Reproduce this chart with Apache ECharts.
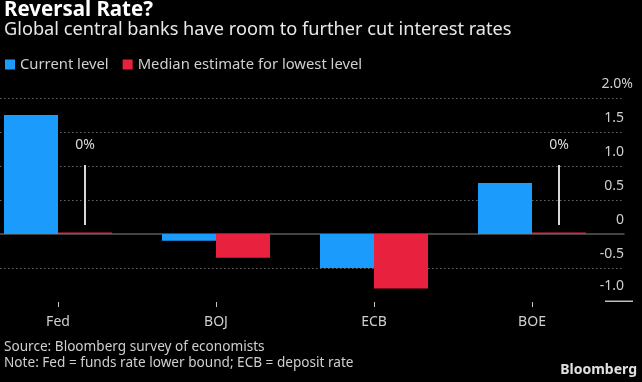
<!DOCTYPE html>
<html><head><meta charset="utf-8">
<script src="https://cdn.jsdelivr.net/npm/echarts@6/dist/echarts.min.js"></script>
<style>html,body{margin:0;padding:0;background:#000}#c{width:642px;height:382px}</style>
</head><body><div id="c"></div>
<script>
const categories = ['Fed', 'BOJ', 'ECB', 'BOE'];
const currentLevel = [1.75, -0.1, -0.5, 0.75];
const medianLowest = [0, -0.35, -0.8, 0];
const yMin = -1, yMax = 2, yStep = 0.5;
const seriesNames = ['Current level', 'Median estimate for lowest level'];

const FONT = '"Noto Sans", sans-serif';
const BLUE = '#1b9cfc';
const RED = '#e8213f';

function yLabel(v) {
  const s = v === 0 ? '0' : v.toFixed(1);
  if (v === yMax) return '{v|' + s + '%}';
  if (v === yMin) return '{v|' + s + '}{s|}\n{u|}';
  return '{v|' + s + '}{s|}';
}

const chart = echarts.init(document.getElementById('c'), null, {renderer: 'canvas'});
chart.setOption({
  backgroundColor: '#000',
  animation: false,
  textStyle: {fontFamily: FONT},
  title: [
    {text: 'Reversal Rate?', left: 4, top: 0, padding: 0,
     textStyle: {color: '#fff', fontSize: 20.5, fontWeight: 'bold', fontFamily: FONT}},
    {text: 'Global central banks have room to further cut interest rates', left: 4, top: 21, padding: 0,
     textStyle: {color: '#e8e8e8', fontSize: 18.2, fontWeight: 'normal', fontFamily: FONT}},
    {text: 'Source: Bloomberg survey of economists', left: 4, top: 340, padding: 0,
     textStyle: {color: '#cfcfcf', fontSize: 13.6, fontWeight: 'normal', fontFamily: FONT}},
    {text: 'Note: Fed = funds rate lower bound; ECB = deposit rate', left: 4, top: 356, padding: 0,
     textStyle: {color: '#cfcfcf', fontSize: 13.6, fontWeight: 'normal', fontFamily: FONT}},
    {text: 'Bloomberg', right: 5, top: 363, padding: 0,
     textStyle: {color: '#e0e0e0', fontSize: 14, fontWeight: 'bold', fontFamily: FONT}}
  ],
  legend: {
    left: 5, top: 57, padding: 0, itemWidth: 10, itemHeight: 10, itemGap: 14, icon: 'rect',
    textStyle: {color: '#cfcfcf', fontSize: 14.8, fontFamily: FONT},
    data: seriesNames
  },
  grid: [
    {left: -21, right: 31, top: 98, bottom: 80, containLabel: false, outerBoundsMode: 'none'},
    {left: 0, right: 18, top: 98, bottom: 80, containLabel: false, outerBoundsMode: 'none'}
  ],
  xAxis: [
    {type: 'category', gridIndex: 0, data: categories, position: 'bottom',
     axisLine: {show: true, onZero: false, lineStyle: {color: 'rgba(0,0,0,0)'}},
     axisTick: {show: true, alignWithLabel: true, length: 5, lineStyle: {color: '#c4c4c4', width: 1}},
     axisLabel: {color: '#d0d0d0', fontSize: 14, margin: 13, fontFamily: FONT},
     splitLine: {show: false}},
    {type: 'value', gridIndex: 1, min: 0, max: 1, show: true,
     axisLine: {show: true, onZero: true, lineStyle: {color: '#5a5a5a', width: 1.5}},
     axisTick: {show: false}, axisLabel: {show: false}, splitLine: {show: false}}
  ],
  yAxis: [
    {type: 'value', gridIndex: 0, min: yMin, max: yMax, interval: yStep, show: false},
    {type: 'value', gridIndex: 1, min: yMin, max: yMax, interval: yStep, position: 'right',
     axisLine: {show: false}, axisTick: {show: false},
     splitLine: {show: true, lineStyle: {type: [1.5, 2.5], width: 1,
       color: ['rgba(0,0,0,0)', '#666', 'rgba(0,0,0,0)', '#666', '#666', '#666', '#666']}},
     axisLabel: {inside: true, margin: -9, align: 'right', verticalAlign: 'bottom',
       formatter: yLabel, color: '#cfcfcf', fontSize: 14, fontFamily: FONT,
       rich: {
         v: {color: '#cfcfcf', fontSize: 14, lineHeight: 28, fontFamily: FONT},
         s: {width: 9, lineHeight: 28},
         u: {width: 28, height: 1.5, lineHeight: 1.5, backgroundColor: '#bdbdbd'}
       }}}
  ],
  series: [
    {type: 'bar', name: seriesNames[0], xAxisIndex: 0, yAxisIndex: 0,
     data: currentLevel, barWidth: 54, barGap: '0%', itemStyle: {color: BLUE}},
    {type: 'bar', name: seriesNames[1], xAxisIndex: 0, yAxisIndex: 0,
     data: medianLowest.map(v => v === 0 ? {value: v, label: {show: true}} : v),
     barWidth: 54, barGap: '0%', barMinHeight: 1.5, itemStyle: {color: RED},
     label: {show: false, position: 'top', distance: 7.5, formatter: '{t|0%}\n{l|}',
       rich: {
         t: {color: '#dcdcdc', fontSize: 14, lineHeight: 40, fontFamily: FONT, align: 'center'},
         l: {width: 2, height: 60, lineHeight: 60, backgroundColor: '#d8d8d8', align: 'center'}
       }}}
  ]
});
</script></body></html>
